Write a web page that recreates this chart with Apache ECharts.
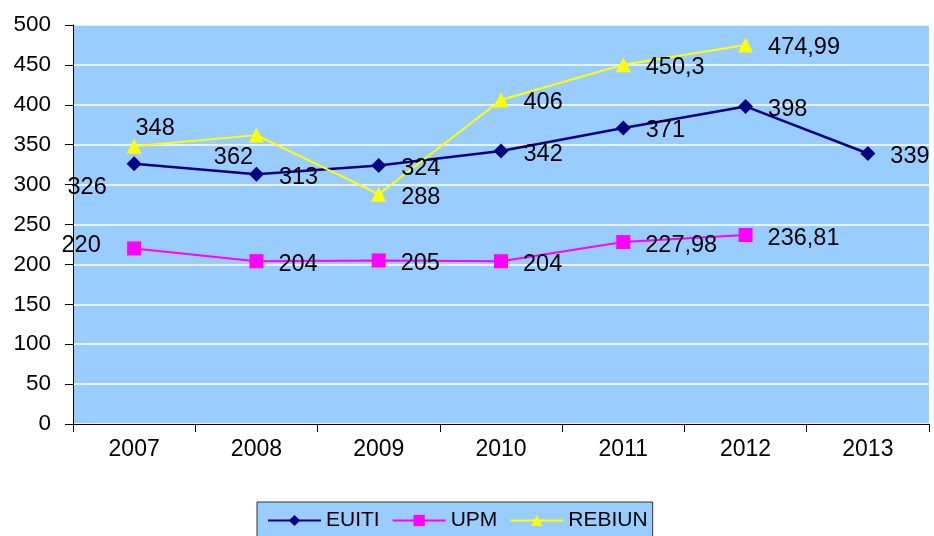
<!DOCTYPE html>
<html>
<head>
<meta charset="utf-8">
<script src="https://cdn.jsdelivr.net/npm/echarts@6/dist/echarts.min.js"></script>
<style>
html,body{margin:0;padding:0;background:#fff;}
#c{width:934px;height:536px;}
</style>
</head>
<body>
<div id="c"></div>
<script>
const categories = ['2007','2008','2009','2010','2011','2012','2013'];
const euiti = [326, 313, 324, 342, 371, 398, 339];
const upm = [220, 204, 205, 204, 227.98, 236.81, null];
const rebiun = [348, 362, 288, 406, 450.3, 474.99, null];
const yTicks = {min: 0, max: 500, interval: 50};

function fmt(v){ return String(v).replace('.', ','); }

// label placement overrides (index -> label options)
const euitiLabelOverrides = {0: {position: 'inside', offset: [-47, 24]}};
const upmLabelOverrides = {0: {position: 'inside', offset: [-53, -3]}};
const rebiunLabelOverrides = {0: {position: 'inside', offset: [21, -18]}, 1: {position: 'inside', offset: [-23, 22]}};

function build(values, overrides){
  return values.map((v, i) => {
    const o = {value: v};
    if (overrides[i]) o.label = overrides[i];
    return o;
  });
}

const FONT = 'Liberation Sans, Arial, sans-serif';

const baseLabel = {
  show: true,
  position: 'right',
  distance: 15,
  offset: [0, 3],
  color: '#000',
  fontFamily: FONT,
  fontSize: 23.5,
  formatter: p => fmt(p.value)
};

const chart = echarts.init(document.getElementById('c'), null, {renderer: 'canvas'});
chart.setOption({
  animation: false,
  backgroundColor: '#ffffff',
  grid: {
    left: 73, right: 5, top: 25, bottom: 112,
    show: true, backgroundColor: '#99CCFF', borderWidth: 0
  },
  xAxis: {
    type: 'category',
    data: categories,
    boundaryGap: true,
    axisLine: {show: true, lineStyle: {color: '#000', width: 1}},
    axisTick: {show: true, length: 8, lineStyle: {color: '#000'}},
    axisLabel: {color: '#000', fontSize: 23, fontFamily: FONT, margin: 14},
    splitLine: {show: false}
  },
  yAxis: {
    type: 'value',
    min: yTicks.min, max: yTicks.max, interval: yTicks.interval,
    axisLine: {show: true, lineStyle: {color: '#000', width: 1}},
    axisTick: {show: true, length: 8, lineStyle: {color: '#000'}},
    axisLabel: {color: '#000', fontSize: 22.5, fontFamily: FONT, margin: 22},
    splitLine: {show: true, lineStyle: {color: '#ffffff', width: 1.5}}
  },
  legend: {
    data: ['EUITI', 'UPM', 'REBIUN'],
    left: 257, top: 502,
    backgroundColor: '#99CCFF',
    borderColor: '#333',
    borderWidth: 1,
    padding: [8, 5, 10, 10],
    itemWidth: 53, itemHeight: 14,
    itemGap: 12,
    textStyle: {color: '#000', fontSize: 21, fontFamily: FONT}
  },
  series: [
    {
      name: 'EUITI', type: 'line',
      data: build(euiti, euitiLabelOverrides),
      symbol: 'diamond', symbolSize: 15,
      itemStyle: {color: '#000080'},
      lineStyle: {color: '#000080', width: 2.5},
      label: baseLabel
    },
    {
      name: 'UPM', type: 'line',
      data: build(upm, upmLabelOverrides),
      symbol: 'rect', symbolSize: 14,
      itemStyle: {color: '#FF00FF'},
      lineStyle: {color: '#FF00FF', width: 2},
      label: baseLabel
    },
    {
      name: 'REBIUN', type: 'line',
      data: build(rebiun, rebiunLabelOverrides),
      symbol: 'triangle', symbolSize: 15,
      itemStyle: {color: '#FFFF00'},
      lineStyle: {color: '#FFFF00', width: 2},
      label: baseLabel
    }
  ]
});
</script>
</body>
</html>
